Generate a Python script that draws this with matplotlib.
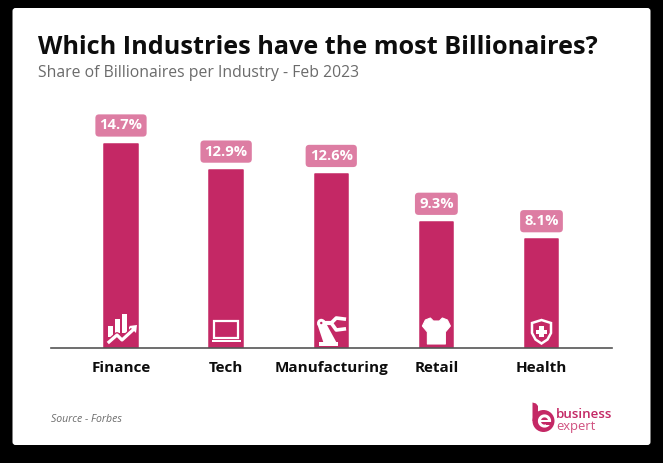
import numpy as np
import matplotlib
matplotlib.use("Agg")
import matplotlib.pyplot as plt
from matplotlib.patches import Circle, FancyBboxPatch, Polygon, Rectangle, Wedge

industries = ["Finance", "Tech", "Manufacturing", "Retail", "Health"]
shares = [14.7, 12.9, 12.6, 9.3, 8.1]
share_labels = ["14.7%", "12.9%", "12.6%", "9.3%", "8.1%"]

PINK = "#c42865"
LABEL_PINK = "#dd7da3"
DARK = "#0d0d0d"
GREY = "#6b6b6b"
W, H = 663, 463

plt.rcParams["font.family"] = ["Open Sans", "DejaVu Sans"]

fig = plt.figure(figsize=(W / 100, H / 100), dpi=100, facecolor="black")


def pixel_axes(zorder):
    # full-figure axes in pixel units, y pointing down
    a = fig.add_axes([0, 0, 1, 1], zorder=zorder)
    a.set_xlim(0, W)
    a.set_ylim(H, 0)
    a.axis("off")
    return a


page = pixel_axes(0)
page.add_patch(FancyBboxPatch((14.5, 10), 634, 433, boxstyle="round,pad=2,rounding_size=3",
                              fc="white", ec="none"))

# chart axes, category 0 sits at x=121 and category 4 at x=541.5
left, right, top, base = 51, 612, 60, 348
ax = fig.add_axes([left / W, 1 - base / H, (right - left) / W, (base - top) / H], zorder=1)
ax.patch.set_alpha(0)
step = (541.5 - 121) / 4
ax.set_xlim((left - 121) / step, (right - 121) / step)
ax.set_ylim(0.6, 0.6 + (base - top) / 14.5)
x = np.arange(len(industries))
ax.bar(x, shares, width=33.5 / step, color=PINK, edgecolor=PINK, linewidth=1.1, joinstyle="round")

for side in ["top", "left", "right"]:
    ax.spines[side].set_visible(False)
ax.spines["bottom"].set_color("#555555")
ax.spines["bottom"].set_linewidth(1.2)
ax.set_yticks([])
ax.set_xticks(x)
ax.set_xticklabels(industries, fontsize=11, fontweight="bold", color=DARK)
ax.tick_params(axis="x", length=0, pad=9.5)

for i, (val, lab) in enumerate(zip(shares, share_labels)):
    ax.annotate(lab, (i, val), xytext=(0, 13), textcoords="offset points", ha="center", va="center",
                fontsize=10.6, fontweight="bold", color="white",
                bbox=dict(boxstyle="round,pad=0.28,rounding_size=0.25", fc=LABEL_PINK, ec="none"))

page.text(38, 47, "Which Industries have the most Billionaires?", fontsize=18.2, fontweight="bold",
          color=DARK, va="center", ha="left")
page.text(38, 73, "Share of Billionaires per Industry - Feb 2023", fontsize=11.3, color=GREY,
          va="center", ha="left")
page.text(51, 419, "Source - Forbes", fontsize=7.6, style="italic", color=GREY, va="center", ha="left")

overlay = pixel_axes(2)


def finance_icon(cx, y):
    for x0, x1, t, b in [(-13, -8, -22, -11), (-6, -1, -29, -15), (1, 6, -34, -15), (7.5, 12.5, -21, -15)]:
        overlay.add_patch(Rectangle((cx + x0, y + t), x1 - x0, b - t, fc="white", ec="none", zorder=2))
    line_x = [cx - 12, cx - 4, cx + 1, cx + 13]
    line_y = [y - 6, y - 13, y - 8, y - 19]
    overlay.plot(line_x, line_y, color=PINK, lw=4.2, zorder=3)
    overlay.plot(line_x, line_y, color="white", lw=2.3, zorder=4)
    overlay.add_patch(Polygon([[cx + 8, y - 22], [cx + 16, y - 23], [cx + 15, y - 15]], fc="white", ec="none", zorder=4))


def laptop_icon(cx, y):
    overlay.add_patch(Rectangle((cx - 12, y - 27.5), 24, 17.5, fc="none", ec="white", lw=1.6, zorder=2))
    overlay.add_patch(Rectangle((cx - 14.5, y - 8), 29, 2.4, fc="white", ec="none", zorder=2))


def robot_icon(cx, y):
    overlay.add_patch(Rectangle((cx - 12.5, y - 6), 19, 4, fc="white", ec="none", zorder=2))
    overlay.add_patch(Polygon([[cx - 8, y - 6], [cx - 14, y - 24], [cx - 7, y - 28], [cx + 5, y - 6]],
                              fc="white", ec="none", zorder=2))
    overlay.plot([cx - 10, cx + 0], [y - 25, y - 25], color="white", lw=3, zorder=2)
    overlay.add_patch(Circle((cx - 10, y - 25), 4.2, fc="white", ec="none", zorder=3))
    overlay.add_patch(Circle((cx - 10, y - 25), 1.2, fc=PINK, ec="none", zorder=4))
    overlay.plot([cx + 13, cx + 5, cx + 0, cx + 5, cx + 13], [y - 29, y - 30, y - 25, y - 18, y - 19],
                 color="white", lw=2.6, zorder=2, solid_joinstyle="round")


def shirt_icon(cx, y):
    pts = [[-6, -30], [-11, -28], [-14, -22], [-9, -16], [-9, -4], [9, -4], [9, -16], [14, -22],
           [11, -28], [6, -30], [3, -27], [-3, -27]]
    overlay.add_patch(Polygon([[cx + a, y + b] for a, b in pts], fc="white", ec="white", lw=0.8,
                              joinstyle="round", zorder=2))


def shield_icon(cx, y):
    pts = [[0, -28], [9.5, -25], [9.5, -15], [6, -8.5], [0, -4.5], [-6, -8.5], [-9.5, -15], [-9.5, -25]]
    overlay.add_patch(Polygon([[cx + a, y + b] for a, b in pts], fc="none", ec="white", lw=1.8, zorder=2))
    overlay.add_patch(Rectangle((cx - 5.5, y - 18.5), 11, 4.4, fc="white", ec="none", zorder=3))
    overlay.add_patch(Rectangle((cx - 2.2, y - 22), 4.4, 11.4, fc="white", ec="none", zorder=3))


icon_funcs = [finance_icon, laptop_icon, robot_icon, shirt_icon, shield_icon]
for i, draw in enumerate(icon_funcs):
    draw(121 + i * step, base)

# logo
overlay.add_patch(Circle((543.5, 421), 11, fc=PINK, ec="none", zorder=2))
overlay.add_patch(Polygon([[532.5, 421], [532.5, 402.5], [536, 403.5], [538, 406], [538, 421]],
                          fc=PINK, ec="none", zorder=2))
overlay.add_patch(Wedge((544.5, 421), 6.6, -20, 340, width=3, fc="white", ec="none", zorder=3))
overlay.add_patch(Rectangle((538, 419.5), 12.5, 2.6, fc="white", ec="none", zorder=4))
overlay.add_patch(Rectangle((546, 422.2), 6, 2.5, fc=PINK, ec="none", zorder=4))
overlay.text(556, 414.5, "business", fontsize=9.6, fontweight="semibold", color=PINK, va="center", ha="left")
overlay.text(556, 426.5, "expert", fontsize=9.4, color="#d0507f", va="center", ha="left")

fig.savefig("out.png", dpi=100, facecolor=fig.get_facecolor())
